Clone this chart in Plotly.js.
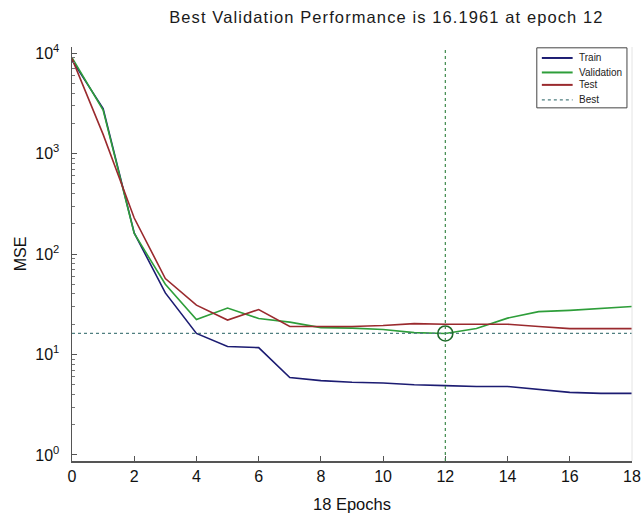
<!DOCTYPE html>
<html>
<head>
<meta charset="utf-8">
<script src="https://cdn.plot.ly/plotly-3.0.1.min.js"></script>
<style>html,body{margin:0;padding:0;background:#fff;}#chart{width:644px;height:515px;}
#chart .gtitle{letter-spacing:1.1px;}</style>
</head>
<body>
<div id="chart"></div>
<script>
const epochs = [0,1,2,3,4,5,6,7,8,9,10,11,12,13,14,15,16,17,18];
const train = [8500,2800,162,41,16.2,12,11.7,5.9,5.5,5.3,5.2,5.0,4.9,4.8,4.8,4.5,4.2,4.1,4.1];
const validation = [9000,2700,160,50,22.3,29,22.8,21,18.5,18.3,17.7,16.5,16.1961,18.1,23,26.7,27.5,28.6,30];
const test = [8800,1550,228,57,31,22,28,19,19,19,19.4,20.3,20,20,20,19,18.1,18.1,18.1];
const bestEpoch = 12;
const bestValue = 16.1961;
const seriesNames = ['Train','Validation','Test','Best'];
const seriesColors = ['#1c1c72','#2e9e3a','#9a2a2e','#4f7f80'];
const yTickVals = [1,10,100,1000,10000];
const yTickText = ['10<sup>0</sup>','10<sup>1</sup>','10<sup>2</sup>','10<sup>3</sup>','10<sup>4</sup>'];
const xTickVals = [0,2,4,6,8,10,12,14,16,18];

const yRange = [-0.06, 4.06];
const minorVals = [];
yTickVals.slice(0, -1).forEach(d => { for (let k = 2; k <= 9; k++) minorVals.push(d * k); });

const traces = [
  {x: epochs, y: train, name: seriesNames[0], mode: 'lines', line: {color: seriesColors[0], width: 1.6}},
  {x: epochs, y: validation, name: seriesNames[1], mode: 'lines', line: {color: seriesColors[1], width: 1.6}},
  {x: epochs, y: test, name: seriesNames[2], mode: 'lines', line: {color: seriesColors[2], width: 1.6}},
  {x: [epochs[0], epochs[epochs.length-1]], y: [bestValue, bestValue], name: seriesNames[3], mode: 'lines',
   line: {color: seriesColors[3], width: 1.2, dash: 'dot'}},
  {x: [bestEpoch], y: [bestValue], mode: 'markers',
   marker: {symbol: 'circle-open', size: 15, color: '#1f6a2a', line: {width: 1.6}}}
];

// custom legend (paper coords)
const lg = {x0: 0.830, x1: 0.991, y0: 0.853, y1: 0.998};
const rowY = [0.9735, 0.9385, 0.9085, 0.8725];
const shapes = [
  {type: 'line', xref: 'x', yref: 'paper', x0: bestEpoch, x1: bestEpoch, y0: 0, y1: 1,
   line: {color: '#3f8a4c', width: 1.2, dash: 'dot'}},
  {type: 'line', xref: 'paper', yref: 'paper', x0: 1, x1: 1, y0: 0, y1: 1,
   line: {color: '#e4e4e4', width: 1}},
  {type: 'rect', xref: 'paper', yref: 'paper', x0: lg.x0, x1: lg.x1, y0: lg.y0, y1: lg.y1,
   fillcolor: '#fff', line: {color: '#444', width: 1}, layer: 'above'}
];
const annotations = [];
seriesNames.forEach((n, i) => {
  shapes.push({type: 'line', xref: 'paper', yref: 'paper', x0: 0.839, x1: 0.894, y0: rowY[i], y1: rowY[i],
    line: {color: seriesColors[i], width: i === 3 ? 1.2 : 2, dash: i === 3 ? 'dot' : 'solid'}, layer: 'above'});
  annotations.push({xref: 'paper', yref: 'paper', x: 0.902, y: rowY[i], xanchor: 'left', yanchor: 'middle',
    text: n, showarrow: false, font: {size: 10, color: '#222'}});
});

const layout = {
  width: 644, height: 515,
  margin: {l: 72, r: 12, t: 47, b: 54},
  paper_bgcolor: '#fff', plot_bgcolor: '#fff',
  font: {family: 'Liberation Sans, Arial, sans-serif', color: '#111'},
  title: {text: 'Best Validation Performance is 16.1961 at epoch 12', x: 0.6, xanchor: 'center', y: 0.967, yanchor: 'middle',
          font: {size: 16.5, color: '#1a1a1a'}},
  xaxis: {
    range: [0, 18], tickvals: xTickVals, ticks: 'inside', ticklen: 5, tickcolor: '#555',
    showline: true, linecolor: '#555', linewidth: 1.5, showgrid: false, zeroline: false,
    tickfont: {size: 16}, title: {text: '18 Epochs', font: {size: 16.5}, standoff: 14}
  },
  yaxis: {
    type: 'log', range: yRange, tickvals: yTickVals, ticktext: yTickText,
    ticks: 'inside', ticklen: 5, tickcolor: '#555', ticklabelstandoff: 8,
    minor: {tickvals: minorVals, ticks: 'inside', ticklen: 3, tickcolor: '#777', showgrid: false},
    showline: true, linecolor: '#555', linewidth: 1.5, showgrid: false, zeroline: false,
    tickfont: {size: 16}, title: {text: 'MSE', font: {size: 16}, standoff: 4}
  },
  shapes: shapes,
  annotations: annotations,
  showlegend: false
};

Plotly.newPlot('chart', traces, layout, {displayModeBar: false, staticPlot: true});
</script>
</body>
</html>
